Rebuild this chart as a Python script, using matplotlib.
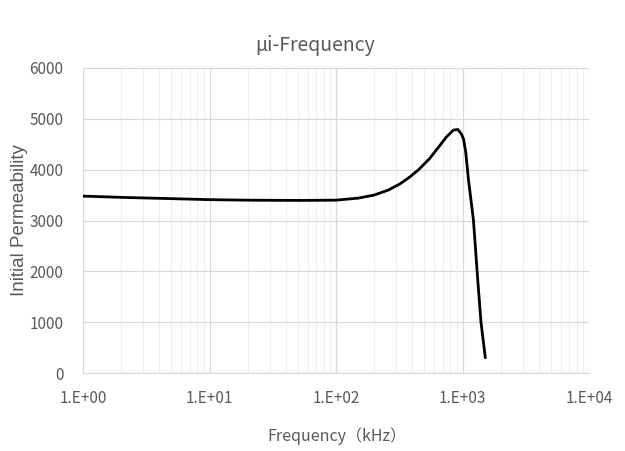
import matplotlib
matplotlib.use("Agg")
import matplotlib.pyplot as plt
from matplotlib.ticker import FixedLocator, FuncFormatter, LogLocator, NullFormatter
import numpy as np

title = "µi-Frequency"
x_label = "Frequency（kHz）"
y_label = "Initial Permeability"

freq_khz = [1, 2, 5, 10, 20, 50, 100, 150, 200, 260, 320, 380, 450, 550, 650,
            750, 850, 920, 980, 1020, 1060, 1115, 1220, 1320, 1400, 1515]
permeability = [3480, 3455, 3430, 3410, 3400, 3395, 3400, 3440, 3500, 3600, 3720,
                3850, 4000, 4220, 4450, 4650, 4780, 4790, 4700, 4600, 4350, 3800, 3010,
                1830, 1000, 300]

y_ticks = [0, 1000, 2000, 3000, 4000, 5000, 6000]
x_ticks = [1, 10, 100, 1000, 10000]
x_tick_labels = ["1.E+00", "1.E+01", "1.E+02", "1.E+03", "1.E+04"]

narrow = ["Noto Sans CJK SC", "DejaVu Sans"]
grey = "#595959"

fig = plt.figure(figsize=(6.25, 4.51), dpi=100)
ax = fig.add_axes([83/625, 1-373/451, (589-83)/625, (373-68)/451])

ax.plot(freq_khz, permeability, color="black", lw=2.0, solid_capstyle="round",
        solid_joinstyle="round", zorder=3)

ax.set_xscale("log")
ax.set_xlim(1, 10000)
ax.set_ylim(0, 6000)
ax.xaxis.set_major_locator(FixedLocator(x_ticks))
ax.xaxis.set_major_formatter(FuncFormatter(lambda v, p: x_tick_labels[x_ticks.index(v)] if v in x_ticks else ""))
ax.xaxis.set_minor_locator(LogLocator(base=10, subs=np.arange(2, 10)))
ax.xaxis.set_minor_formatter(NullFormatter())
ax.set_yticks(y_ticks)

ax.grid(which="major", color="#d9d9d9", lw=0.9, zorder=0)
ax.grid(which="minor", axis="x", color="#efefef", lw=0.8, zorder=0)

for s in ["top", "right", "left"]:
    ax.spines[s].set_visible(False)
ax.spines["bottom"].set_color("#d9d9d9")
ax.tick_params(which="both", length=0, labelcolor=grey, labelsize=11)
ax.tick_params(axis="x", pad=12)
ax.tick_params(axis="y", pad=14)
for lab in ax.get_xticklabels() + ax.get_yticklabels():
    lab.set_family(narrow)

fig.text(315/625, 1-45/451, title, ha="center", va="center", fontsize=14,
         color=grey, family=narrow)
fig.text(267/625, 1-436/451, x_label, ha="left", va="center", fontsize=11.5,
         color=grey, family=narrow)
fig.text(20/625, 1-220/451, y_label, ha="center", va="center", fontsize=13.5,
         color=grey, rotation=90, family=["Liberation Sans", "DejaVu Sans"])

fig.savefig("out.png", dpi=100, facecolor="white")
